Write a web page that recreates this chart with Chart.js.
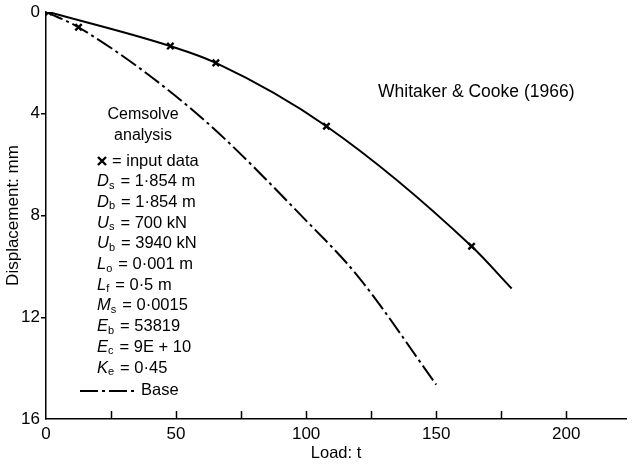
<!DOCTYPE html>
<html>
<head>
<meta charset="utf-8">
<script src="https://cdn.jsdelivr.net/npm/chart.js@4/dist/chart.umd.min.js"></script>
<style>
  html, body { margin: 0; padding: 0; background: #fff; }
</style>
</head>
<body>
<canvas id="chart" width="633" height="465"></canvas>
<script>
// Whitaker & Cooke (1966) measured curve
const loadMeasured = [1, 47.8, 65.3, 107.8, 163.6, 179];
const dispMeasured = [0, 1.34, 2.0, 4.49, 9.21, 10.87];
// Cemsolve base curve
const loadBase = [0, 12.5, 58, 100, 120, 150];
const dispBase = [0, 0.6, 4.0, 8.2, 10.4, 14.65];
// input data (x markers)
const loadInput = [1, 12.5, 47.8, 65.3, 107.8, 163.6];
const dispInput = [0, 0.6, 1.34, 2.0, 4.49, 9.21];

const xTickLabels = [0, 50, 100, 150, 200];
const yTickLabels = [0, 4, 8, 12, 16];

// Cemsolve parameters
const paramSym = ['D', 'D', 'U', 'U', 'L', 'L', 'M', 'E', 'E', 'K'];
const paramSub = ['s', 'b', 's', 'b', 'o', 'f', 's', 'b', 'c', 'e'];
const paramVal = ['1·854 m', '1·854 m', '700 kN', '3940 kN', '0·001 m', '0·5 m', '0·0015', '53819', '9E + 10', '0·45'];

const pts = (xs, ys) => xs.map((x, i) => ({ x: x, y: ys[i] }));
const FONT = '"Liberation Sans", Arial, Helvetica, sans-serif';

const annotations = {
  id: 'annotations',
  afterDraw(chart) {
    const ctx = chart.ctx;
    const xs = chart.scales.x, ys = chart.scales.y;
    ctx.save();
    // inward ticks on the load axis
    ctx.strokeStyle = '#000';
    ctx.lineWidth = 1.5;
    for (let v = 25; v <= xs.max; v += 25) {
      const px = Math.round(xs.getPixelForValue(v)) + 0.5;
      ctx.beginPath();
      ctx.moveTo(px, ys.bottom);
      ctx.lineTo(px, ys.bottom - 8);
      ctx.stroke();
    }

    ctx.fillStyle = '#000';
    ctx.textBaseline = 'middle';
    ctx.font = '17.5px ' + FONT;
    ctx.textAlign = 'left';
    ctx.fillText('Whitaker & Cooke (1966)', 378, 92);

    ctx.font = '16px ' + FONT;
    ctx.textAlign = 'center';
    ctx.fillText('Cemsolve', 143, 115);
    ctx.fillText('analysis', 143, 136);

    ctx.textAlign = 'left';
    const left = 97;
    let y = 161;
    const step = 20.7;
    // x marker line
    ctx.lineWidth = 2.4;
    ctx.beginPath();
    ctx.moveTo(left + 1, y - 4); ctx.lineTo(left + 9, y + 4);
    ctx.moveTo(left + 9, y - 4); ctx.lineTo(left + 1, y + 4);
    ctx.stroke();
    ctx.font = '16.5px ' + FONT;
    ctx.fillText('= input data', left + 15, y);

    for (let i = 0; i < paramSym.length; i++) {
      y += step;
      ctx.font = 'italic 16.5px ' + FONT;
      ctx.fillText(paramSym[i], left, y);
      let w = ctx.measureText(paramSym[i]).width;
      ctx.font = '11px ' + FONT;
      ctx.fillText(paramSub[i], left + w, y + 4);
      w += ctx.measureText(paramSub[i]).width;
      ctx.font = '16.5px ' + FONT;
      ctx.fillText('= ' + paramVal[i], left + w + 6, y);
    }

    // legend for base curve
    y += 22;
    ctx.lineWidth = 2;
    ctx.setLineDash([18, 4, 3, 4]);
    ctx.beginPath();
    ctx.moveTo(80, y + 1);
    ctx.lineTo(136, y + 1);
    ctx.stroke();
    ctx.setLineDash([]);
    ctx.font = '16.5px ' + FONT;
    ctx.fillText('Base', 141, y);
    ctx.restore();
  }
};

new Chart(document.getElementById('chart'), {
  type: 'scatter',
  data: {
    datasets: [
      {
        label: 'Whitaker & Cooke (1966)',
        data: pts(loadMeasured, dispMeasured),
        showLine: true,
        borderColor: '#000',
        borderWidth: 2,
        pointRadius: 0,
        cubicInterpolationMode: 'monotone'
      },
      {
        label: 'Base',
        data: pts(loadBase, dispBase),
        showLine: true,
        borderColor: '#000',
        borderWidth: 2,
        borderDash: [18, 4, 3, 4],
        pointRadius: 0,
        cubicInterpolationMode: 'monotone'
      },
      {
        label: 'input data',
        data: pts(loadInput, dispInput),
        showLine: false,
        pointStyle: 'crossRot',
        pointRadius: 4.5,
        borderColor: '#000',
        borderWidth: 2.4
      }
    ]
  },
  options: {
    responsive: false,
    animation: false,
    layout: { padding: { top: 12, right: 0, left: 0, bottom: 0 } },
    plugins: { legend: { display: false }, tooltip: { enabled: false } },
    scales: {
      x: {
        type: 'linear',
        min: 0,
        max: 223,
        afterFit: s => { s.height = 46; },
        afterBuildTicks: s => { s.ticks = xTickLabels.map(v => ({ value: v })); },
        grid: { display: false, drawTicks: false },
        border: { display: true, color: '#000', width: 1.5 },
        ticks: { color: '#000', font: { family: FONT, size: 17 }, padding: 5, maxRotation: 0 },
        title: { display: true, text: 'Load: t', color: '#000', font: { family: FONT, size: 16.5 }, padding: { top: 0, bottom: 2 } }
      },
      y: {
        type: 'linear',
        reverse: true,
        min: 0,
        max: 16,
        afterFit: s => { s.width = 46; },
        afterBuildTicks: s => { s.ticks = yTickLabels.map(v => ({ value: v })); },
        grid: {
          drawOnChartArea: false,
          drawTicks: true,
          tickLength: 5,
          color: c => (c.tick && c.tick.value > 0 && c.tick.value < 16) ? '#000' : 'rgba(0,0,0,0)',
          lineWidth: 1.5
        },
        border: { display: true, color: '#000', width: 1.5 },
        ticks: { color: '#000', font: { family: FONT, size: 17 }, padding: 1 },
        title: { display: true, text: 'Displacement: mm', color: '#000', font: { family: FONT, size: 17 }, padding: { top: 3, bottom: 0 } }
      }
    }
  },
  plugins: [annotations]
});
</script>
</body>
</html>
